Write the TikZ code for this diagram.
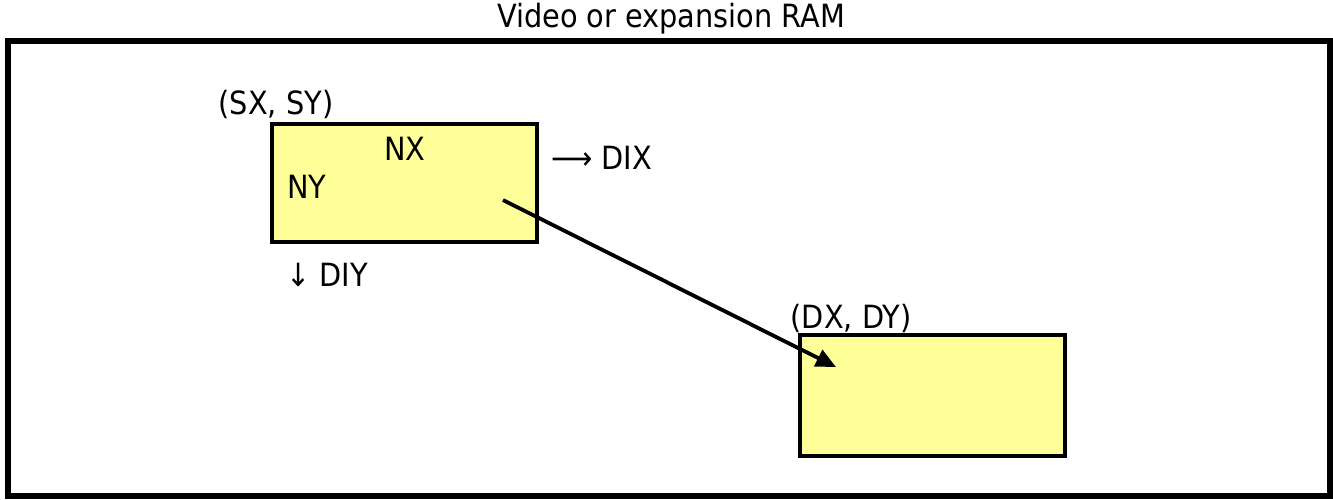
\documentclass[tikz,border=0pt]{standalone}
\usepackage{fontspec}
\setmainfont{DejaVu Sans Condensed}
\usetikzlibrary{arrows.meta}
\definecolor{boxyellow}{HTML}{FFFF99}
\tikzset{
  frame/.style={draw=black, line width=6.5pt},
  membox/.style={draw=black, fill=boxyellow, line width=4.5pt},
  lbl/.style={font=\fontsize{32}{37}\selectfont, inner sep=0pt},
  move/.style={line width=3.8pt, -{Triangle[length=20pt,width=18pt]}}
}
\begin{document}
\begin{tikzpicture}[x=1pt,y=-1pt]
\useasboundingbox (0,0) rectangle (1333,499);
\draw[frame] (8,41) rectangle (1330,496);
\node[lbl] (title) at (671,19) {Video or expansion RAM};
\draw[membox] (272,124) rectangle (537,242);
\coordinate (src) at (404.5,183);
\draw[membox] (800,335) rectangle (1065,456);
\coordinate (dst) at (932.5,395.5);
\node[lbl] (sxy) at (276,104) {(SX, SY)};
\node[lbl] (nx) at (405,149) {NX};
\node[lbl, anchor=west] (ny) at (287,187) {NY};
\node[lbl, anchor=west] (dix) at (551,158) {⟶ DIX};
\node[lbl, anchor=west] (diy) at (286,275) {↓ DIY};
\node[lbl] (dxy) at (851,318) {(DX, DY)};
\coordinate (a0) at (503,200);
\coordinate (a1) at (836,367);
\draw[move] (a0) -- (a1);
\end{tikzpicture}
\end{document}
